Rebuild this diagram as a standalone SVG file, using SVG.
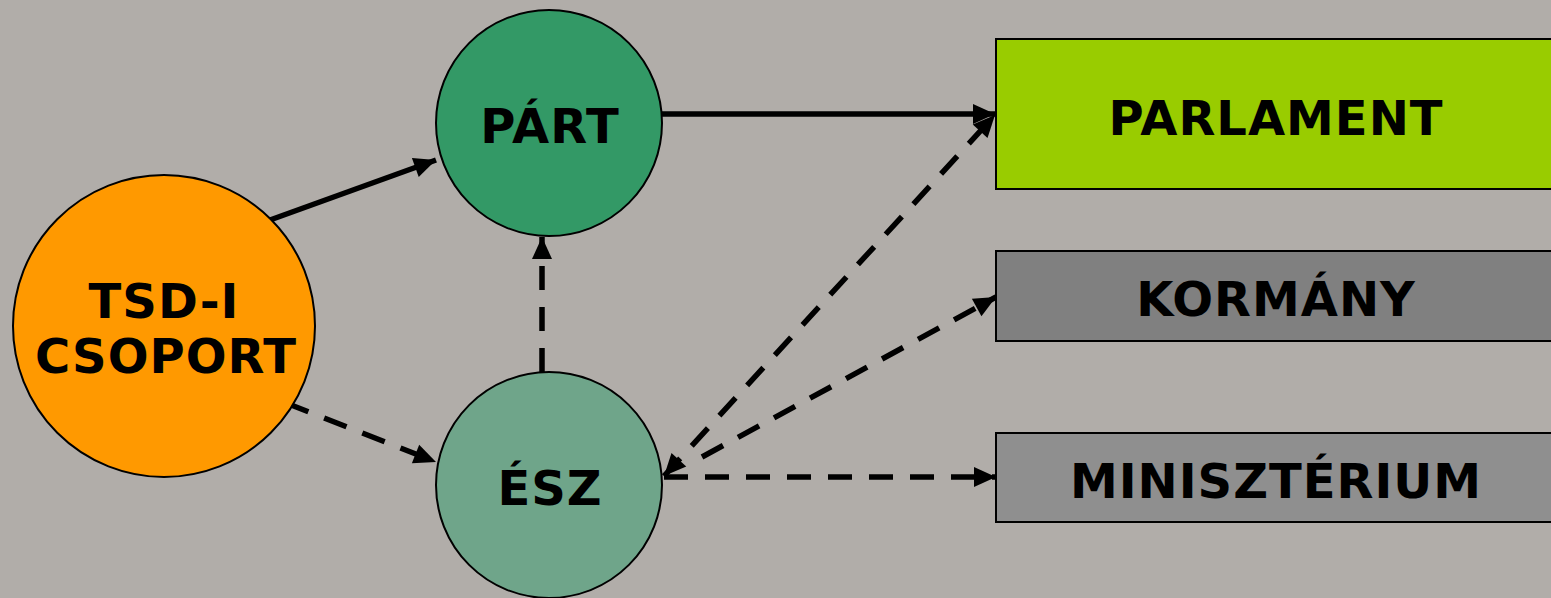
<svg xmlns="http://www.w3.org/2000/svg" width="1551" height="598" viewBox="0 0 1551 598">
<style>
.lbl{font-family:"DejaVu Sans",Verdana,sans-serif;font-weight:bold;font-size:48px;letter-spacing:1px;fill:#000;text-anchor:middle}
.node{stroke:#000;stroke-width:2}
.c{stroke:#000;stroke-width:5.5;fill:none}
.d{stroke-dasharray:24 17}
</style>
<defs>
<marker id="ah" markerUnits="userSpaceOnUse" markerWidth="26" markerHeight="22" refX="22" refY="10" orient="auto-start-reverse" overflow="visible">
<path d="M0,0 L22,10 L0,20 z" fill="#000"/>
</marker>
</defs>
<rect width="1551" height="598" fill="#B1ADA9"/>
<g id="connectors">
<line class="c" x1="270" y1="220" x2="436" y2="160" marker-end="url(#ah)"/>
<line class="c d" x1="286" y1="403" x2="436" y2="462" marker-end="url(#ah)"/>
<line class="c d" x1="542" y1="372" x2="542" y2="237" marker-end="url(#ah)"/>
<line class="c" x1="662" y1="114" x2="995" y2="114" marker-end="url(#ah)"/>
<line class="c d" x1="664" y1="476" x2="995" y2="115" marker-start="url(#ah)" marker-end="url(#ah)"/>
<line class="c d" x1="702" y1="457" x2="996" y2="297" marker-end="url(#ah)"/>
<line class="c d" x1="664" y1="477" x2="996" y2="477" marker-end="url(#ah)"/>
</g>
<g id="tsd">
<circle class="node" cx="164" cy="326" r="151" fill="#FF9900"/>
<text class="lbl" x="164" y="318">TSD-I</text>
<text class="lbl" x="166" y="373">CSOPORT</text>
</g>
<g id="part">
<circle class="node" cx="549" cy="123" r="113" fill="#339966"/>
<text class="lbl" x="550" y="143">PÁRT</text>
</g>
<g id="esz">
<circle class="node" cx="549" cy="485" r="113" fill="#6FA58A"/>
<text class="lbl" x="550" y="505">ÉSZ</text>
</g>
<g id="parlament">
<rect class="node" x="996" y="39" width="570" height="150" fill="#99CC00"/>
<text class="lbl" x="1276" y="135">PARLAMENT</text>
</g>
<g id="kormany">
<rect class="node" x="996" y="251" width="570" height="90" fill="#808080"/>
<text class="lbl" x="1276" y="316">KORMÁNY</text>
</g>
<g id="miniszterium">
<rect class="node" x="996" y="433" width="570" height="89" fill="#8F8F8F"/>
<text class="lbl" x="1276" y="498">MINISZTÉRIUM</text>
</g>
</svg>
